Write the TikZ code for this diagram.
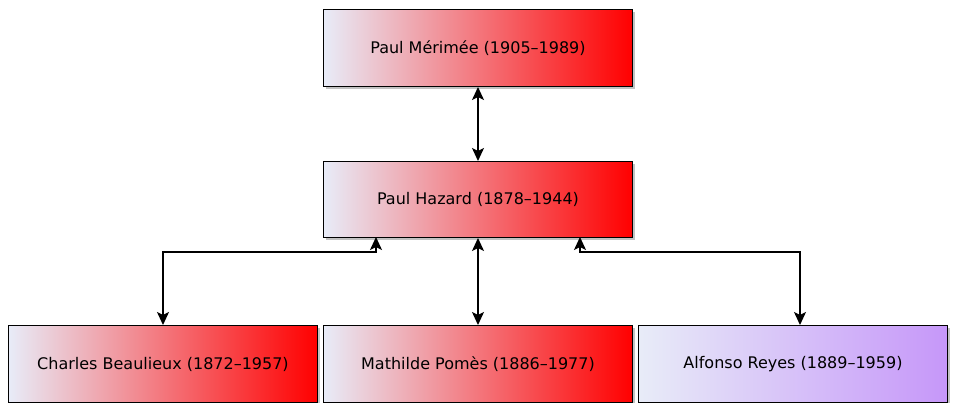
\documentclass[tikz,border=0pt]{standalone}
\usepackage{fontspec}
\setmainfont{DejaVu Sans}
\usetikzlibrary{shadows,arrows.meta}
\definecolor{startc}{HTML}{E8ECF8}
\definecolor{redc}{HTML}{FF0000}
\definecolor{purc}{HTML}{C697F9}
\tikzset{
  person/.style={draw=black, line width=1pt, minimum width=309pt, minimum height=77pt,
    anchor=north west, left color=startc, right color=redc, shading angle=90,
    drop shadow={shadow xshift=2.5pt, shadow yshift=-2.5pt, opacity=0.4, fill=black!60},
    font=\fontsize{16}{19}\selectfont},
  purple/.style={right color=purc},
  dlink/.style={line width=1.4pt, {Stealth[length=13pt,width=12pt,inset=3pt]}-{Stealth[length=13pt,width=12pt,inset=3pt]}}
}
\begin{document}
\begin{tikzpicture}[x=1pt,y=-1pt]
\useasboundingbox (0,0) rectangle (954,403);
\node[person] (pm) at (323,9) {Paul Mérimée (1905–1989)};
\node[person, minimum height=76pt] (ph) at (323,161) {Paul Hazard (1878–1944)};
\node[person] (cb) at (8,325) {Charles Beaulieux (1872–1957)};
\node[person] (mp) at (323,325) {Mathilde Pomès (1886–1977)};
\node[person, purple] (ar) at (638,325) {Alfonso Reyes (1889–1959)};
\draw[dlink] (pm.south) -- (ph.north);
\draw[dlink] (ph.south) -- (mp.north);
\coordinate (l1) at (376,237);
\coordinate (r1) at (580,237);
\draw[dlink] (l1) |- (163,252) -- (cb.north -| 163,0);
\draw[dlink] (r1) |- (800,252) -- (ar.north -| 800,0);
\end{tikzpicture}
\end{document}
